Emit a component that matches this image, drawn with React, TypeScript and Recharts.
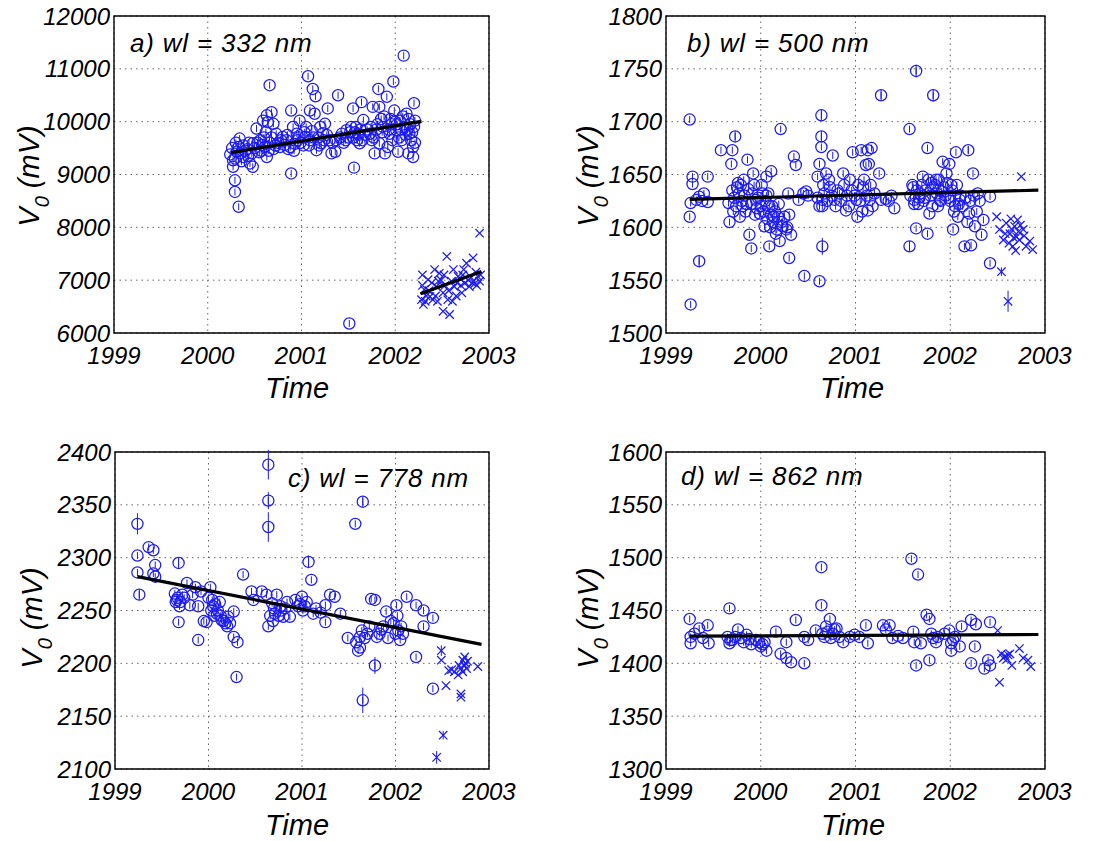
import React from 'react';
import { ScatterChart, Scatter, XAxis, YAxis, CartesianGrid, ReferenceArea, ErrorBar } from 'recharts';

type Pt = [number, number, number?];

const yearTicks = [1999, 2000, 2001, 2002, 2003];
const aTicks = [6000, 7000, 8000, 9000, 10000, 11000, 12000];
const bTicks = [1500, 1550, 1600, 1650, 1700, 1750, 1800];
const cTicks = [2100, 2150, 2200, 2250, 2300, 2350, 2400];
const dTicks = [1300, 1350, 1400, 1450, 1500, 1550, 1600];

const aCircles: Pt[] = [
  [2000.24,9380],[2000.27,9270],[2000.27,9145],[2000.29,8890],[2000.29,8670],[2000.33,8390],[2000.34,9680],[2000.33,9520],[2000.38,9330],[2000.31,9430],[2000.29,9300],[2000.36,9250],[2000.40,9450],[2000.43,9350],
  [2000.45,9210],[2000.48,9145],[2000.52,9870],[2000.59,10020],[2000.63,10120],[2000.64,9990],[2000.68,10180],[2000.70,9960],[2000.56,9650],[2000.48,9590],[2000.63,9330],[2000.61,9520],[2000.66,10690],[2000.50,9500],[2000.55,9420],[2000.58,9560],[2000.66,9600],[2000.70,9480],
  [2000.73,9770],[2000.80,9710],[2000.84,9650],[2000.89,10210],[2000.89,9020],[2000.95,9770],[2000.88,9520],[2000.77,9520],[2000.91,9900],[2000.96,9650],[2000.98,10020],[2000.75,9600],[2000.82,9560],[2000.86,9480],[2000.93,9580],[2000.97,9700],
  [2001.04,9710],[2001.07,10860],[2001.12,10620],[2001.15,10480],[2001.09,10210],[2001.14,10150],[2001.20,9900],[2001.25,9960],[2001.28,10250],[2001.30,9650],[2001.21,9590],[2001.16,9460],[2001.09,9650],[2001.05,9900],[2001.32,9400],[2001.36,9430],[2001.02,9550],[2001.18,9700],[2001.23,9780],[2001.11,9820],
  [2001.39,10500],[2001.37,9650],[2001.43,9770],[2001.48,9840],[2001.51,6180],[2001.55,10250],[2001.56,9130],[2001.59,9650],[2001.60,9770],[2001.64,10370],[2001.66,10030],[2001.53,9900],[2001.62,9590],[2001.45,9600],[2001.50,9700],[2001.57,9800],[2001.63,9850],[2001.68,9750],
  [2001.73,9770],[2001.76,10280],[2001.82,10620],[2001.83,10280],[2001.78,9400],[2001.87,9900],[2001.91,10470],[2001.92,9520],[2001.98,10760],[2001.99,10210],[2001.94,9770],[2001.83,9590],[2001.89,9400],[2002.01,9840],[2001.80,9850],[2001.96,9950],[2001.75,9650],[2001.85,10050],
  [2002.05,10020],[2002.09,11250],[2002.07,9650],[2002.10,9900],[2002.12,10150],[2002.14,9400],[2002.15,9770],[2002.20,10350],[2002.19,9520],[2002.19,9330],[2002.21,10020],[2002.17,9650],[2002.03,9430],[2002.00,10000],[2002.08,10100],[2002.13,9850],[2002.04,9700],[2002.16,9950],
  [2000.26,9500],[2000.30,9600],[2000.35,9400],[2000.38,9550],[2000.42,9480],[2000.44,9600],[2000.47,9400],[2000.53,9600],[2000.57,9450],[2000.60,9700],[2000.62,9800],[2000.65,9450],[2000.68,9700],[2000.72,9550],[2000.78,9650],[2000.85,9750],[2000.92,9450],[2000.99,9600],[2001.03,9800],[2001.08,9550],[2001.13,9700],[2001.19,9550],[2001.24,9650],[2001.27,9750],[2001.33,9600],[2001.41,9700],[2001.47,9650],[2001.52,9800],[2001.55,9700],[2001.58,9900],[2001.61,9750],[2001.65,9650],[2001.70,9850],[2001.74,9900],[2001.77,9700],[2001.81,9950],[2001.86,9800],[2001.88,10100],[2001.93,9850],[2001.95,10050],[2001.97,9650],[2002.02,9950],[2002.06,9850],[2002.11,9750],[2002.14,10050],[2002.18,9800],[2002.20,9900],[2002.21,9600],
];
const aCrosses: Pt[] = [
  [2002.28,6630],[2002.30,6540],[2002.31,6820],[2002.35,7010],[2002.37,6690],[2002.40,6630],[2002.44,6880],[2002.46,6980],[2002.47,7130],[2002.51,6760],[2002.51,6410],[2002.55,7450],[2002.56,6630],[2002.58,6350],[2002.60,6980],[2002.62,7200],[2002.63,6880],[2002.67,7070],[2002.69,7040],[2002.71,6760],[2002.74,6940],[2002.76,7320],[2002.79,6880],[2002.83,7420],[2002.85,6940],[2002.88,7070],[2002.90,7890],[2002.90,6980],[2002.29,7100],[2002.33,6700],[2002.42,7200],[2002.53,6900],[2002.65,6700],[2002.72,7100],[2002.81,7050],[2002.86,7150],
  [2002.29,6900],[2002.32,6600],[2002.36,6800],[2002.39,6950],[2002.43,6700],[2002.45,6600],[2002.49,7000],[2002.52,7100],[2002.57,6800],[2002.61,6600],[2002.66,6950],[2002.70,6900],[2002.73,7200],[2002.78,7000],[2002.82,6950],[2002.87,6900],[2002.91,7100],
];
const aTrend1: Pt[] = [[2000.25, 9415], [2002.28, 10006]];
const aTrend2: Pt[] = [[2002.27, 6742], [2002.92, 7163]];

const bCircles: Pt[] = [
  [1999.25,1702],[1999.26,1527],[1999.25,1610],[1999.26,1623],[1999.28,1648],[1999.28,1641],[1999.35,1568,6],[1999.35,1629],[1999.40,1632],[1999.44,1648],[1999.44,1624],[1999.32,1626],[1999.38,1625],
  [1999.58,1673],[1999.66,1623],[1999.67,1605],[1999.70,1673],[1999.73,1686,5],[1999.69,1660],[1999.76,1642],[1999.81,1620],[1999.86,1664],[1999.88,1593],[1999.90,1580],[1999.92,1651],[1999.95,1626],[1999.99,1613],[2000.02,1632],[2000.06,1648],[2000.09,1620],[2000.09,1582],[2000.04,1601],[2000.11,1653],[2000.14,1610],[2000.16,1594],[2000.20,1587],[2000.21,1693],[2000.23,1601],[2000.27,1598],[2000.29,1632],[2000.30,1571],[2000.32,1593],[2000.35,1667],[2000.37,1659],[2000.46,1554],[2000.48,1634],
  [1999.70,1635],[1999.72,1628],[1999.74,1620],[1999.77,1632],[1999.79,1640],[1999.80,1625],[1999.83,1630],[1999.84,1615],[1999.87,1636],[1999.90,1622],[1999.93,1640],[1999.94,1612],[1999.97,1628],[2000.00,1620],[2000.01,1640],[2000.03,1615],[2000.05,1625],[2000.07,1608],[2000.08,1632],[2000.10,1600],[2000.12,1620],[2000.13,1605],[2000.15,1615],[2000.17,1598],[2000.18,1610],[2000.22,1605],[2000.25,1610],[2000.28,1600],[2000.30,1612],
  [2000.40,1626],[2000.45,1632],[2000.50,1630],
  [2000.60,1628],[2000.62,1620],[2000.66,1640],[2000.67,1632],[2000.70,1625],[2000.72,1645],[2000.75,1630],[2000.79,1620],[2000.81,1635],[2000.85,1625],[2000.88,1640],[2000.91,1630],[2000.93,1620],[2000.96,1635],[2000.99,1630],[2001.03,1640],[2001.05,1625],[2001.07,1615],[2001.09,1645],[2001.12,1630],[2001.14,1660],[2001.16,1640],[2001.18,1620],[2001.20,1632],[2001.35,1625],[2001.38,1630],
  [2000.62,1549],[2000.64,1706,5],[2000.64,1686,5],[2000.64,1676],[2000.62,1660],[2000.60,1648],[2000.65,1582,8],[2000.65,1626],[2000.65,1620],[2000.69,1651],[2000.73,1638],[2000.76,1668],[2000.78,1626],[2000.83,1632],[2000.87,1651],[2000.90,1616],[2000.94,1645],[2000.97,1671],[2001.01,1626],[2001.02,1610],[2001.06,1673],[2001.08,1638],[2001.11,1659],[2001.13,1673],[2001.13,1616],[2001.17,1675],[2001.15,1626],[2001.27,1725,5],[2001.25,1651],[2001.27,1626],[2001.32,1627],[2001.41,1618],
  [2001.58,1630],[2001.60,1640],[2001.62,1622],[2001.65,1635],[2001.67,1628],[2001.70,1640],[2001.72,1625],[2001.74,1635],[2001.77,1645],[2001.79,1630],[2001.81,1620],[2001.84,1640],[2001.86,1632],[2001.88,1645],[2001.90,1625],[2001.93,1638],[2001.95,1630],[2001.97,1642],[2002.00,1625],[2002.02,1635],[2002.04,1615],[2002.07,1640],[2002.08,1610],[2002.11,1630],[2002.13,1620],[2002.16,1628],[2002.18,1605],[2002.21,1625],[2002.25,1630],[2002.28,1615],[2002.31,1625],
  [2001.57,1693],[2001.57,1582,5],[2001.64,1748,6],[2001.64,1599],[2001.61,1638],[2001.62,1626],[2001.68,1632],[2001.71,1648],[2001.76,1675],[2001.76,1594],[2001.78,1613],[2001.82,1725,6],[2001.82,1638],[2001.85,1645],[2001.89,1626],[2001.92,1662],[2001.96,1651],[2001.99,1660],[2002.03,1598],[2002.05,1620],[2002.06,1671],[2002.10,1626],[2002.15,1582],[2002.19,1673,4],[2002.20,1613],[2002.22,1583],[2002.24,1651],[2002.26,1601],[2002.29,1632],[2002.33,1593],[2002.35,1607],[2002.42,1566],[2002.42,1629],
  [1999.71,1615],[1999.75,1638],[1999.78,1610],[1999.82,1645],[1999.85,1622],[1999.91,1632],[1999.96,1618],[2000.06,1630],[2000.11,1612],[2000.19,1622],[2001.66,1622],[2001.73,1628],[2001.80,1642],[2001.87,1620],[2001.91,1634],[2001.98,1628],[2002.01,1640],[2002.09,1622],
];
const bCrosses: Pt[] = [
  [2002.54,1558,4],[2002.61,1530,10],[2002.49,1610],[2002.52,1598],[2002.56,1588],[2002.59,1604],[2002.63,1594],[2002.66,1582],[2002.68,1601],[2002.71,1607],[2002.73,1588],[2002.75,1648],[2002.77,1598],[2002.80,1582],[2002.84,1587],[2002.87,1579],[2002.70,1591],[2002.65,1598],[2002.58,1594],[2002.62,1585],[2002.72,1596],[2002.67,1590],[2002.74,1602],[2002.69,1578],[2002.78,1592],[2002.64,1608],
];
const bTrend: Pt[] = [[1999.25, 1626.4], [2002.93, 1635.2]];

const cCircles: Pt[] = [
  [1999.24,2332,10],[1999.24,2302],[1999.24,2286],[1999.26,2265,5],[1999.36,2310],[1999.41,2307],[1999.43,2293],[1999.41,2285],[1999.43,2282],
  [1999.68,2295,5],[1999.68,2239],[1999.64,2266],[1999.66,2260],[1999.70,2258],[1999.77,2276],[1999.80,2255],[1999.86,2272],[1999.89,2254],[1999.89,2222],[1999.98,2239],[2000.02,2272],[2000.04,2260],[2000.05,2254],[2000.09,2247],[2000.12,2258],[2000.14,2241],[2000.18,2238],[2000.23,2238],[2000.27,2249],[2000.27,2225],[2000.31,2220],[2000.30,2187],[2000.37,2284],[2000.46,2268],[2000.48,2260],[2000.57,2268],
  [1999.65,2258],[1999.67,2262],[1999.69,2254],[1999.72,2265],[1999.74,2262],[1999.83,2265],[1999.92,2268],[2000.00,2262],[2000.03,2250],[2000.06,2245],[2000.07,2256],[2000.10,2250],[2000.13,2245],[2000.16,2240],[2000.20,2235],[2000.21,2244],
  [2000.64,2388,14],[2000.64,2354,8],[2000.64,2329,14],[2000.64,2235],[2000.62,2265],[2000.68,2257],[2000.71,2247],[2000.73,2265],[2000.77,2254],[2000.80,2244],[2000.84,2258],[2000.87,2244],[2000.93,2260],[2000.96,2254],[2001.00,2263],[2001.03,2254],[2001.07,2296,6],[2001.10,2279],[2001.12,2247],[2001.25,2239],[2001.25,2255],[2001.30,2265],[2001.35,2263],[2001.41,2247],
  [2000.66,2245],[2000.69,2240],[2000.70,2252],[2000.75,2245],[2000.78,2250],[2000.82,2252],[2000.98,2256],[2001.01,2250],[2001.05,2258],[2001.15,2252],[2001.20,2248],
  [2001.49,2224],[2001.57,2332],[2001.60,2212],[2001.58,2220],[2001.64,2231],[2001.65,2353,5],[2001.65,2165,12],[2001.67,2224],[2001.74,2261],[2001.78,2260],[2001.78,2198,8],[2001.83,2228],[2001.87,2235],[2001.90,2249],[2001.92,2224],[2001.98,2238],[2002.01,2255],[2002.03,2231],[2002.05,2222],[2002.08,2228],[2002.12,2263],[2002.22,2206],[2002.22,2255],[2002.30,2250],[2002.30,2235],[2002.40,2243],[2002.40,2176],
  [2001.62,2225],[2001.70,2228],[2001.72,2235],[2001.80,2225],[2001.85,2232],[1999.95,2240],[2001.95,2240],[2002.00,2228],[2002.02,2245],[2002.06,2235],[2001.62,2215],
];
const cCrosses: Pt[] = [
  [2002.44,2111,6],[2002.51,2132,4],[2002.49,2212,5],[2002.49,2203],[2002.54,2179],[2002.60,2194],[2002.63,2192],[2002.67,2189],[2002.70,2168],[2002.70,2171],[2002.72,2203],[2002.74,2198],[2002.76,2195],[2002.70,2195],[2002.88,2197],[2002.74,2206],[2002.72,2192],[2002.75,2200],[2002.68,2198],[2002.77,2202],[2002.57,2193],
];
const cTrend: Pt[] = [[1999.24, 2282], [2002.92, 2218]];

const dCircles: Pt[] = [
  [1999.25,1442],[1999.26,1425],[1999.26,1419],[1999.35,1433],[1999.39,1424],[1999.44,1436],[1999.45,1419],[1999.30,1428],
  [1999.67,1452],[1999.65,1425],[1999.67,1419],[1999.70,1422],[1999.76,1432],[1999.79,1424],[1999.85,1427],[1999.90,1418],[1999.95,1422],[2000.00,1416],[2000.04,1420],[2000.06,1412],[2000.16,1430],[2000.21,1409],[2000.27,1420],[2000.27,1405],[2000.32,1401],[2000.37,1441],[2000.46,1400],[2000.46,1425],[2000.50,1422],[2000.58,1431],
  [1999.68,1422],[1999.73,1425],[1999.82,1420],[1999.88,1423],[1999.98,1420],[2000.02,1418],
  [2000.64,1491],[2000.64,1455],[2000.65,1428],[2000.69,1435],[2000.73,1442],[2000.76,1428],[2000.80,1433],[2000.83,1425],[2000.87,1420],[2000.94,1425],[2000.99,1427],[2001.04,1425],[2001.11,1436],[2001.13,1419],[2000.67,1425],[2000.71,1430],[2000.74,1424],[2000.78,1432],
  [2001.29,1436],[2001.36,1436],[2001.39,1424],[2001.50,1424],[2001.59,1499],[2001.61,1430],[2001.62,1420],[2001.64,1398],[2001.66,1484],[2001.69,1419],[2001.75,1446],[2001.78,1442],[2001.78,1403],[2001.80,1428],[2001.82,1424],[2001.85,1420],[2001.94,1428],[2001.99,1431],[2002.01,1419],[2002.01,1412],[2002.05,1425],[2002.10,1416],[2002.12,1435],[2002.22,1441],[2002.22,1400],[2002.26,1416],[2002.27,1437],[2002.36,1395],[2002.40,1403],[2002.42,1439],[2002.42,1398],
  [2001.32,1432],[2001.45,1426],[2001.87,1425],[2002.03,1422],
];
const dCrosses: Pt[] = [
  [2002.50,1431],[2002.52,1382],[2002.54,1409],[2002.56,1405],[2002.61,1408],[2002.63,1409],[2002.65,1398],[2002.73,1414],[2002.77,1405],[2002.82,1403],[2002.85,1397],[2002.58,1407],[2002.60,1404],
];
const dTrend: Pt[] = [[1999.25, 1425.7], [2002.93, 1427.3]];

const BLUE = '#1c1cf0';
const FONT = '"Liberation Sans", Arial, Helvetica, sans-serif';

const toObj = (arr: Pt[]) => arr.map(([x, y, e]) => ({ x, y, err: e ?? 0 }));

const CircleShape = (p: any) => (
  <g>
    <circle cx={p.cx} cy={p.cy} r={5.6} fill="none" stroke={BLUE} strokeWidth={1.25} />
    <line x1={p.cx} x2={p.cx} y1={p.cy - 3.5} y2={p.cy + 3.5} stroke={BLUE} strokeWidth={1} />
  </g>
);
const CrossShape = (p: any) => (
  <g stroke={BLUE} strokeWidth={1.25}>
    <line x1={p.cx - 4.2} x2={p.cx + 4.2} y1={p.cy - 4.2} y2={p.cy + 4.2} />
    <line x1={p.cx - 4.2} x2={p.cx + 4.2} y1={p.cy + 4.2} y2={p.cy - 4.2} />
  </g>
);
const NoShape = () => <g />;

interface PanelProps {
  left: number; top: number; yAxisWidth: number; mTop: number; mRight: number; mBottom: number;
  yTicks: number[]; circles: Pt[]; crosses: Pt[]; trends: Pt[][];
  title: string; titleX: number; titleY: number; yLabX: number; yLabY: number; timeX: number; timeY: number;
}

function Panel(props: PanelProps) {
  const { left, top, yAxisWidth, mTop, mRight, mBottom, yTicks, circles, crosses, trends, title, titleX, titleY, yLabX, yLabY, timeX, timeY } = props;
  const yMin = yTicks[0];
  const yMax = yTicks[yTicks.length - 1];
  const tickStyle = { fontSize: 24, fontStyle: 'italic', fill: '#000', fontFamily: FONT };
  return (
    <div style={{ position: 'absolute', left, top, width: 556, height: 420 }}>
      <ScatterChart width={556} height={420} margin={{ top: mTop, right: mRight, bottom: mBottom, left: 0 }}>
        <CartesianGrid stroke="#666" strokeDasharray="1.5 4" />
        <XAxis type="number" dataKey="x" domain={[1999, 2003]} ticks={yearTicks} allowDataOverflow
          tick={tickStyle} tickLine={false} axisLine={false} tickSize={6} tickMargin={8} height={40} interval={0} />
        <YAxis type="number" dataKey="y" domain={[yMin, yMax]} ticks={yTicks} allowDataOverflow
          tick={tickStyle} tickLine={false} axisLine={false} tickSize={4} tickMargin={0} width={yAxisWidth} interval={0} />
        <ReferenceArea x1={1999} x2={2003} y1={yMin} y2={yMax} fill="none" stroke="#000" strokeWidth={1.4} />
        <Scatter data={toObj(circles)} shape={CircleShape} isAnimationActive={false}>
          <ErrorBar dataKey="err" direction="y" width={0} stroke={BLUE} strokeWidth={1} />
        </Scatter>
        <Scatter data={toObj(crosses)} shape={CrossShape} isAnimationActive={false}>
          <ErrorBar dataKey="err" direction="y" width={0} stroke={BLUE} strokeWidth={1} />
        </Scatter>
        {trends.map((t, i) => (
          <Scatter key={i} data={toObj(t)} shape={NoShape} line={{ stroke: '#000', strokeWidth: 3.2 }} isAnimationActive={false} />
        ))}
      </ScatterChart>
      <svg width={556} height={420} style={{ position: 'absolute', left: 0, top: 0, pointerEvents: 'none' }}>
        <text x={titleX} y={titleY} fontFamily={FONT} fontStyle="italic" fontSize={26} letterSpacing={0.8} fill="#000">{title}</text>
        <text x={timeX} y={timeY} fontFamily={FONT} fontStyle="italic" fontSize={29} textAnchor="middle" fill="#000">Time</text>
        <text transform={`translate(${yLabX},${yLabY}) rotate(-90)`} fontFamily={FONT} fontStyle="italic" fontSize={29} textAnchor="middle" fill="#000">
          V<tspan fontSize={20} dy={10}>0</tspan><tspan dy={-10}> (mV)</tspan>
        </text>
      </svg>
    </div>
  );
}

export default function App() {
  return (
    <div style={{ position: 'absolute', left: 0, top: 0, width: 1112, height: 841, background: '#fff', overflow: 'hidden' }}>
      <Panel left={0} top={0} yAxisWidth={114} mTop={16} mRight={67} mBottom={47}
        yTicks={aTicks} circles={aCircles} crosses={aCrosses} trends={[aTrend1, aTrend2]}
        title="a) wl = 332 nm" titleX={130} titleY={52} yLabX={39} yLabY={176} timeX={297} timeY={398} />
      <Panel left={556} top={0} yAxisWidth={110} mTop={16} mRight={67} mBottom={47}
        yTicks={bTicks} circles={bCircles} crosses={bCrosses} trends={[bTrend]}
        title="b) wl = 500 nm" titleX={131} titleY={52} yLabX={42} yLabY={176} timeX={296} timeY={398} />
      <Panel left={0} top={420} yAxisWidth={115} mTop={32} mRight={67} mBottom={31}
        yTicks={cTicks} circles={cCircles} crosses={cCrosses} trends={[cTrend]}
        title="c) wl = 778 nm" titleX={288} titleY={67} yLabX={42} yLabY={198} timeX={297} timeY={415} />
      <Panel left={556} top={420} yAxisWidth={110} mTop={32} mRight={67} mBottom={31}
        yTicks={dTicks} circles={dCircles} crosses={dCrosses} trends={[dTrend]}
        title="d) wl = 862 nm" titleX={125} titleY={65} yLabX={42} yLabY={198} timeX={297} timeY={415} />
    </div>
  );
}
